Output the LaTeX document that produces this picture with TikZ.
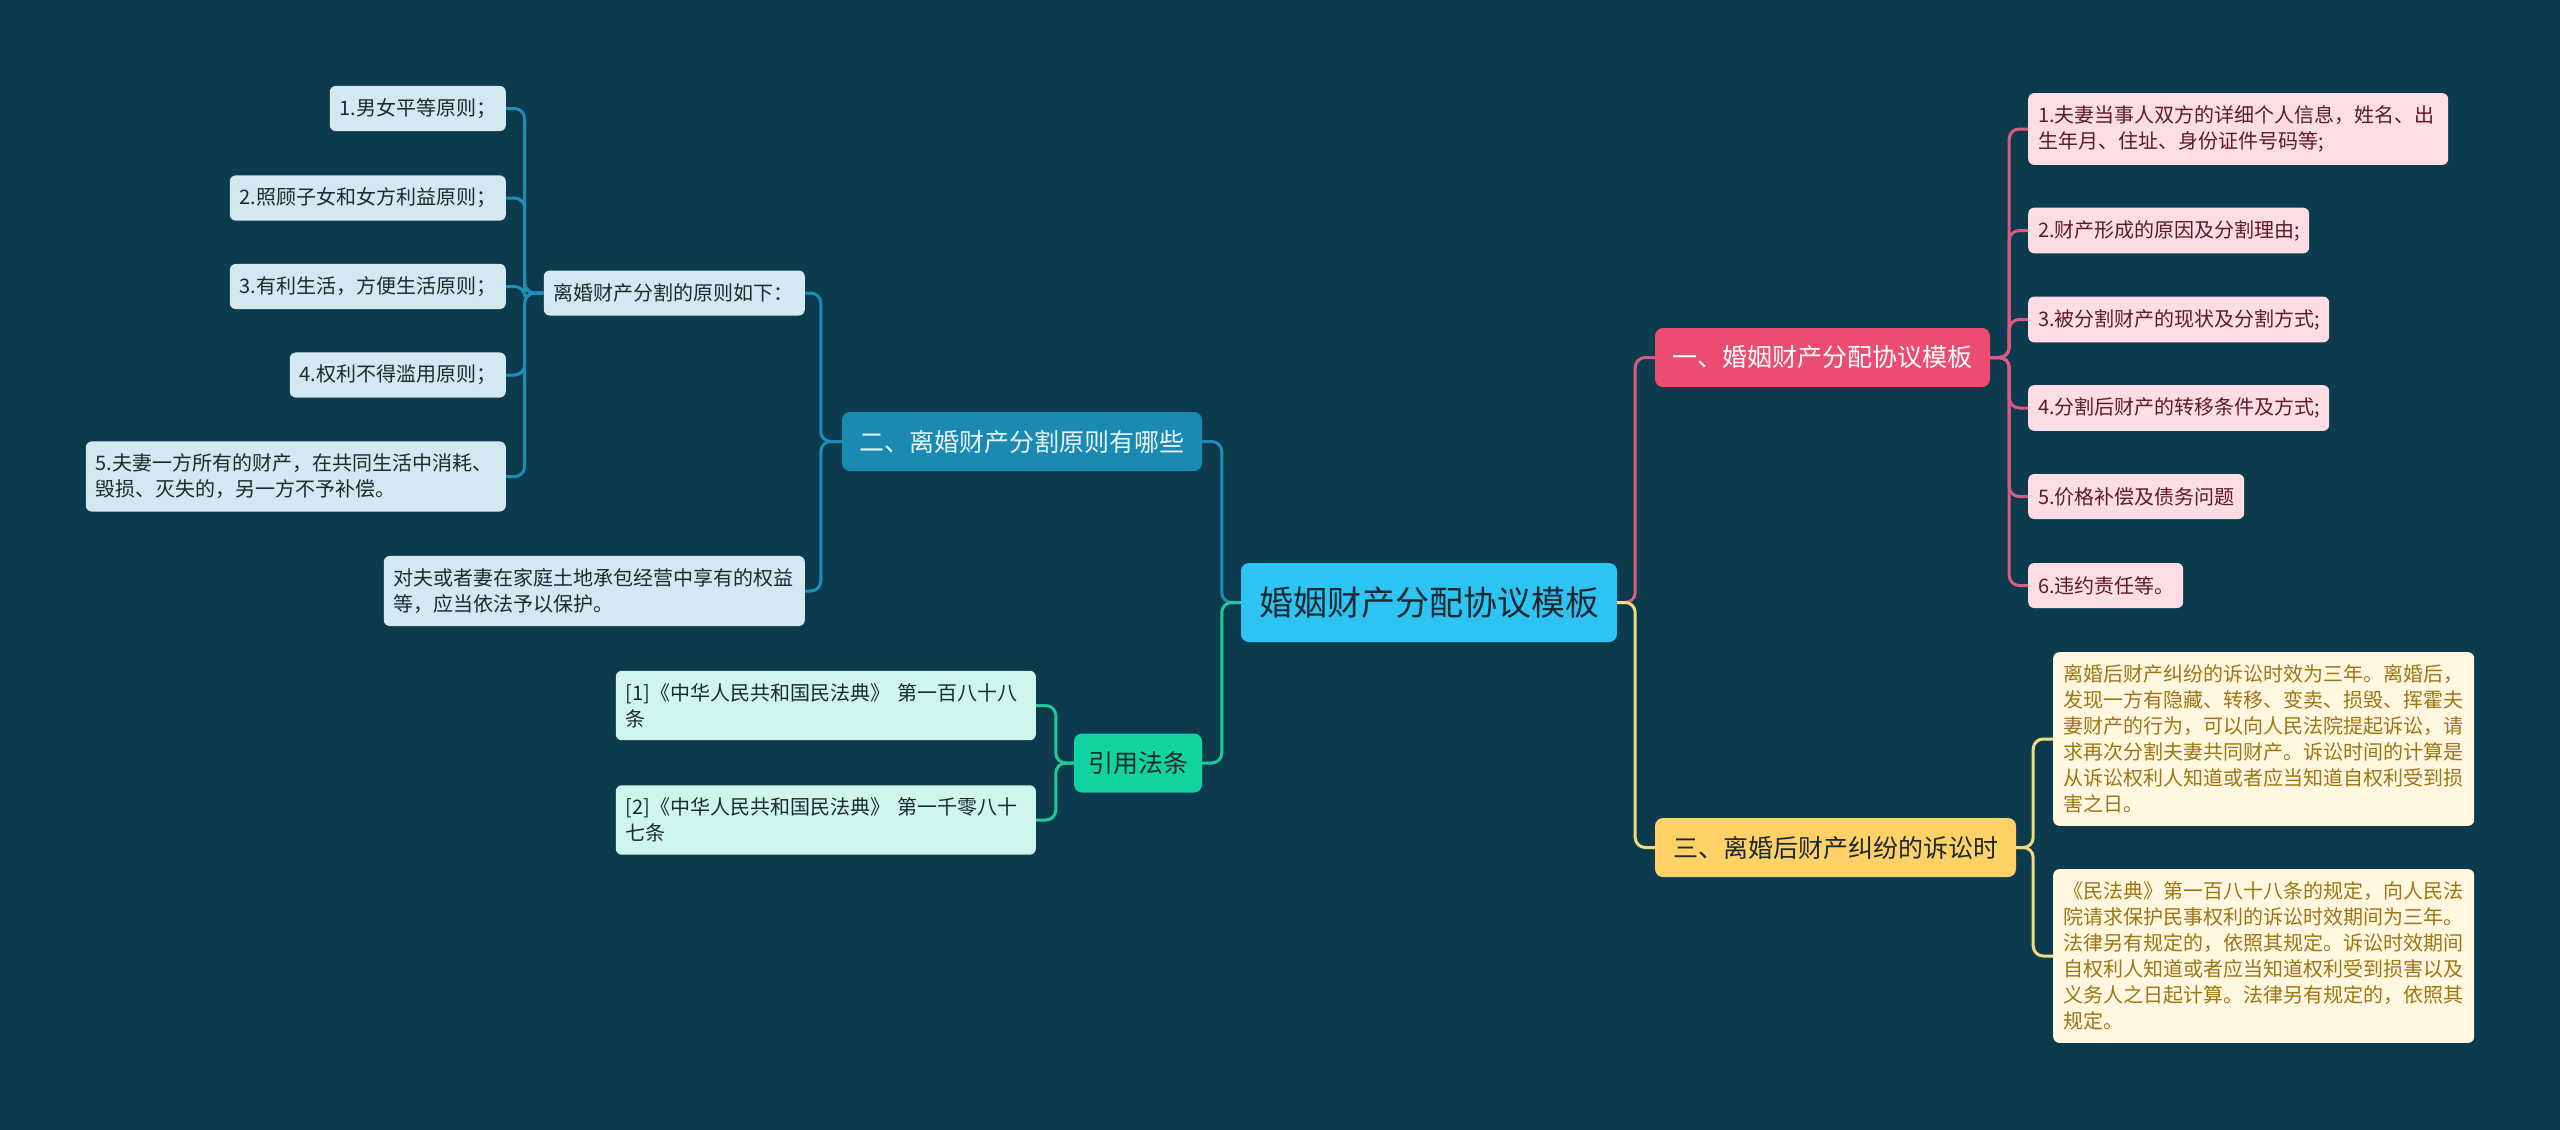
\documentclass[tikz,border=0pt]{standalone}
\usepackage{fontspec}
\setmainfont{Noto Sans CJK SC}
\definecolor{bg}{HTML}{0B3B4D}
\definecolor{rootF}{HTML}{2DC3F2}
\definecolor{darkT}{HTML}{1B2A31}
\definecolor{pinkF}{HTML}{EC4C70}
\definecolor{pinkL}{HTML}{DC5A80}
\definecolor{pinkB}{HTML}{FCDDE3}
\definecolor{pinkT}{HTML}{5C1A2E}
\definecolor{yelF}{HTML}{FFD166}
\definecolor{yelL}{HTML}{F2DB7C}
\definecolor{yelB}{HTML}{FFF7E0}
\definecolor{yelT}{HTML}{9E7512}
\definecolor{blueF}{HTML}{1B8AB3}
\definecolor{blueL}{HTML}{1E8DB6}
\definecolor{blueB}{HTML}{D3E8F0}
\definecolor{blueT}{HTML}{E8F4F8}
\definecolor{greenF}{HTML}{10D3A0}
\definecolor{greenL}{HTML}{1FC99B}
\definecolor{greenB}{HTML}{CFF6EC}
\begin{document}
\begin{tikzpicture}[x=1pt,y=-1pt,
  rootbox/.style={fill=rootF, text=darkT, rounded corners=8pt, minimum width=376pt, minimum height=79pt, font=\fontsize{34}{40}\selectfont, inner sep=0pt},
  mainbox/.style={rounded corners=8pt, minimum height=59pt, font=\fontsize{25}{30}\selectfont, inner sep=0pt},
  leaf/.style={rounded corners=6pt, inner xsep=10pt, inner ysep=12.5pt, minimum height=45pt, align=left, font=\fontsize{20}{26}\selectfont, text width=#1},
  conn/.style={line width=3pt, rounded corners=10pt}
]
\fill[bg] (0,0) rectangle (2560,1130);
\useasboundingbox (0,0) rectangle (2560,1130);

% root
\node[rootbox] (root) at (1429,602.5) {婚姻财产分配协议模板};

% level 1
\node[mainbox, fill=pinkF, text=white, minimum width=335pt] (one) at (1822.5,357.5) {一、婚姻财产分配协议模板};
\node[mainbox, fill=yelF, text=darkT, minimum width=361pt] (three) at (1835.5,847.5) {三、离婚后财产纠纷的诉讼时};
\node[mainbox, fill=blueF, text=blueT, minimum width=360pt] (two) at (1022,441.5) {二、离婚财产分割原则有哪些};
\node[mainbox, fill=greenF, text=darkT, minimum width=128pt] (cite) at (1138,763) {引用法条};

% right pink leaves
\node[leaf=400pt, fill=pinkB, text=pinkT, anchor=west] (r1) at (2028,129) {1.夫妻当事人双方的详细个人信息，姓名、出\\生年月、住址、身份证件号码等;};
\node[leaf=261pt, fill=pinkB, text=pinkT, anchor=west] (r2) at (2028,230.5) {2.财产形成的原因及分割理由;};
\node[leaf=281pt, fill=pinkB, text=pinkT, anchor=west] (r3) at (2028,319.5) {3.被分割财产的现状及分割方式;};
\node[leaf=281pt, fill=pinkB, text=pinkT, anchor=west] (r4) at (2028,408) {4.分割后财产的转移条件及方式;};
\node[leaf=196pt, fill=pinkB, text=pinkT, anchor=west] (r5) at (2028,496.5) {5.价格补偿及债务问题};
\node[leaf=135pt, fill=pinkB, text=pinkT, anchor=west] (r6) at (2028,585.5) {6.违约责任等。};

% yellow leaves
\node[leaf=401pt, fill=yelB, text=yelT, anchor=west] (y1) at (2053,739) {离婚后财产纠纷的诉讼时效为三年。离婚后，\\发现一方有隐藏、转移、变卖、损毁、挥霍夫\\妻财产的行为，可以向人民法院提起诉讼，请\\求再次分割夫妻共同财产。诉讼时间的计算是\\从诉讼权利人知道或者应当知道自权利受到损\\害之日。};
\node[leaf=401pt, fill=yelB, text=yelT, anchor=west] (y2) at (2053,956) {《民法典》第一百八十八条的规定，向人民法\\院请求保护民事权利的诉讼时效期间为三年。\\法律另有规定的，依照其规定。诉讼时效期间\\自权利人知道或者应当知道权利受到损害以及\\义务人之日起计算。法律另有规定的，依照其\\规定。};

% blue branch
\node[leaf=241pt, fill=blueB, text=darkT, anchor=east] (p1) at (805,293) {离婚财产分割的原则如下：};
\node[leaf=401pt, fill=blueB, text=darkT, anchor=east] (p2) at (805,591) {对夫或者妻在家庭土地承包经营中享有的权益\\等，应当依法予以保护。};
\node[leaf=156pt, fill=blueB, text=darkT, anchor=east] (l1) at (506,108.5) {1.男女平等原则；};
\node[leaf=256pt, fill=blueB, text=darkT, anchor=east] (l2) at (506,198) {2.照顾子女和女方利益原则；};
\node[leaf=256pt, fill=blueB, text=darkT, anchor=east] (l3) at (506,286.5) {3.有利生活，方便生活原则；};
\node[leaf=196pt, fill=blueB, text=darkT, anchor=east] (l4) at (506,375) {4.权利不得滥用原则；};
\node[leaf=400pt, fill=blueB, text=darkT, anchor=east] (l5) at (506,476.5) {5.夫妻一方所有的财产，在共同生活中消耗、\\毁损、灭失的，另一方不予补偿。};

% cite leaves
\node[leaf=400pt, fill=greenB, text=darkT, anchor=east] (c1) at (1036,705.5) {[1]《中华人民共和国民法典》 第一百八十八\\条};
\node[leaf=400pt, fill=greenB, text=darkT, anchor=east] (c2) at (1036,820) {[2]《中华人民共和国民法典》 第一千零八十\\七条};

% connectors
\draw[conn, blueL] (root.west) -- ++(-19,0) |- (two.east);
\draw[conn, greenL] (root.west) -- ++(-19,0) |- (cite.east);
\draw[conn, pinkL] (root.east) -- ++(18,0) |- (one.west);
\draw[conn, yelL] (root.east) -- ++(18,0) |- (three.west);

\foreach \n in {r1,r2,r3,r4,r5,r6}{\draw[conn, pinkL] (one.east) -- ++(19,0) |- (\n.west);}
\foreach \n in {y1,y2}{\draw[conn, yelL] (three.east) -- ++(17,0) |- (\n.west);}
\foreach \n in {p1,p2}{\draw[conn, blueL] (two.west) -- ++(-21,0) |- (\n.east);}
\foreach \n in {l1,l2,l3,l4,l5}{\draw[conn, blueL] (p1.west) -- ++(-19,0) |- (\n.east);}
\foreach \n in {c1,c2}{\draw[conn, greenL] (cite.west) -- ++(-18,0) |- (\n.east);}
\end{tikzpicture}
\end{document}
